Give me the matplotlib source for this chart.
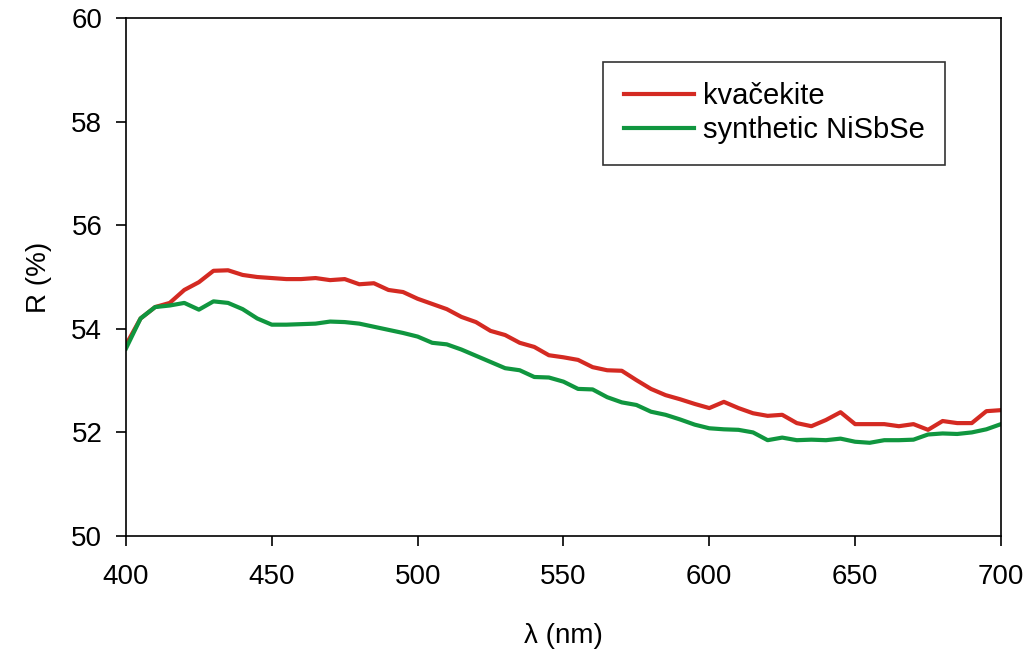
import numpy as np
import matplotlib
matplotlib.use("Agg")
import matplotlib.pyplot as plt

plt.rcParams['font.family'] = ['Liberation Sans', 'DejaVu Sans']

# wavelength grid (nm)
wavelength = np.arange(400, 701, 5)

# reflectance of kvacekite (%)
kvacekite = [53.69, 54.2, 54.42, 54.5, 54.75, 54.9, 55.12, 55.13, 55.04, 55.0,
             54.98, 54.96, 54.96, 54.98, 54.94, 54.96, 54.86, 54.88, 54.75, 54.71,
             54.58, 54.48, 54.38, 54.23, 54.13, 53.96, 53.88, 53.73, 53.65, 53.49,
             53.45, 53.4, 53.26, 53.2, 53.19, 53.01, 52.84, 52.72, 52.64, 52.55,
             52.47, 52.59, 52.47, 52.37, 52.32, 52.34, 52.18, 52.12, 52.24, 52.39,
             52.16, 52.16, 52.16, 52.12, 52.16, 52.05, 52.22, 52.18, 52.18, 52.41,
             52.43]

# reflectance of synthetic NiSbSe (%)
nisbse = [53.62, 54.2, 54.42, 54.45, 54.5, 54.37, 54.53, 54.5, 54.38, 54.2,
          54.08, 54.08, 54.09, 54.1, 54.14, 54.13, 54.1, 54.04, 53.98, 53.92,
          53.85, 53.73, 53.7, 53.6, 53.48, 53.36, 53.24, 53.2, 53.07, 53.06,
          52.98, 52.84, 52.83, 52.68, 52.58, 52.53, 52.4, 52.34, 52.25, 52.15,
          52.08, 52.06, 52.05, 52.0, 51.85, 51.9, 51.85, 51.86, 51.85, 51.88,
          51.82, 51.8, 51.85, 51.85, 51.86, 51.96, 51.98, 51.97, 52.0, 52.06,
          52.16]

fig = plt.figure(figsize=(10.3, 6.62), dpi=100)
ax = fig.add_axes([0.1223, 0.1903, 0.8495, 0.7825])

ax.plot(wavelength, kvacekite, color='#d42a22', lw=3, label='kvačekite')
ax.plot(wavelength, nisbse, color='#10963f', lw=3, label='synthetic NiSbSe')

ax.set_xlim(400, 700)
ax.set_ylim(50, 60)
ax.set_xticks(np.arange(400, 701, 50))
ax.set_yticks(np.arange(50, 61, 2))
ax.tick_params(direction='out', length=7, width=1.2, labelsize=20)
ax.tick_params(axis='x', pad=13)
ax.tick_params(axis='y', pad=10)
for s in ax.spines.values():
    s.set_linewidth(1.2)

ax.set_xlabel('λ (nm)', fontsize=20, labelpad=24)
ax.set_ylabel('R (%)', fontsize=20, labelpad=14)

leg = ax.legend(loc='upper right', bbox_to_anchor=(0.936, 0.915), borderaxespad=0,
                fontsize=21, frameon=True, fancybox=False, edgecolor='black',
                handlelength=2.4, handletextpad=0.3, borderpad=0.7, labelspacing=0.2)
leg.get_frame().set_linewidth(1.2)

fig.savefig('out.png', dpi=100)
